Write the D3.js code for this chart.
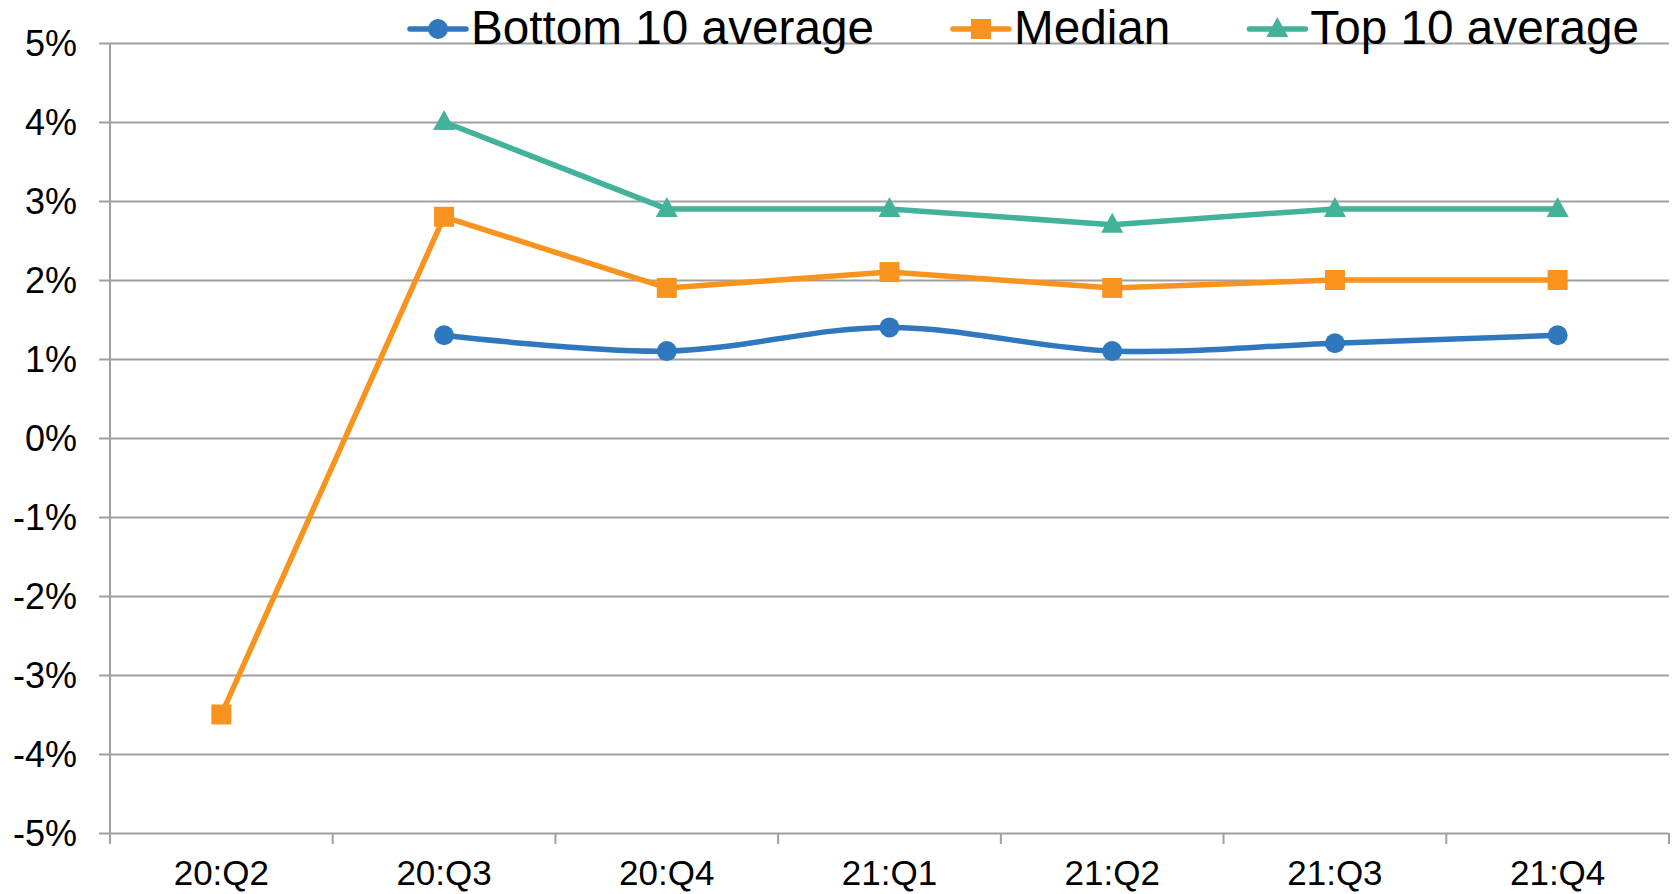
<!DOCTYPE html>
<html>
<head>
<meta charset="utf-8">
<script src="https://cdn.jsdelivr.net/npm/d3@7"></script>
<style>
  html, body { margin: 0; padding: 0; background: #fff; }
  svg { display: block; font-family: "Liberation Sans", Arial, sans-serif; }
</style>
</head>
<body>
<svg class="chart"></svg>
<script>
let categories = ["20:Q2", "20:Q3", "20:Q4", "21:Q1", "21:Q2", "21:Q3", "21:Q4"];
let bottom10   = [null, 1.3, 1.1, 1.4, 1.1, 1.2, 1.3];
let median     = [-3.5, 2.8, 1.9, 2.1, 1.9, 2.0, 2.0];
let top10      = [null, 4.0, 2.9, 2.9, 2.7, 2.9, 2.9];
let yTicks     = [-5, -4, -3, -2, -1, 0, 1, 2, 3, 4, 5];

let width  = 1675;
let height = 894;
let margin = {top: 43, right: 6, bottom: 61, left: 110};

let svg = d3.select(".chart").attr("width", width).attr("height", height);

let x = d3.scaleBand().domain(categories).range([margin.left, width - margin.right]);
let y = d3.scaleLinear().domain([-5, 5]).range([height - margin.bottom, margin.top]);

let gridColor = "#a0a0a0";

// horizontal gridlines + y labels
svg.append("g")
  .attr("class", "y-axis")
  .attr("transform", "translate(" + margin.left + ",0)")
  .call(d3.axisLeft(y).tickValues(yTicks).tickSize(-(width - margin.left - margin.right)).tickPadding(0)
    .tickFormat(d => d + "%"))
  .call(g => g.select(".domain").remove())
  .call(g => g.selectAll(".tick line").attr("stroke", gridColor).attr("stroke-width", 2).attr("x1", -11))
  .call(g => g.selectAll(".tick text").attr("x", -33).attr("dy", "0.36em")
    .attr("font-size", 36).attr("fill", "#000"));

// left axis line
svg.append("line")
  .attr("x1", margin.left).attr("x2", margin.left)
  .attr("y1", y(5)).attr("y2", y(-5) + 11)
  .attr("stroke", gridColor).attr("stroke-width", 2);

// x axis with ticks between categories
let xg = svg.append("g")
  .attr("class", "x-axis")
  .attr("transform", "translate(0," + y(-5) + ")");

xg.selectAll("line.tk")
  .data(categories.concat(["end"]))
  .join("line")
  .attr("class", "tk")
  .attr("x1", (d, i) => i < categories.length ? x(d) : x(categories[categories.length - 1]) + x.bandwidth())
  .attr("x2", (d, i) => i < categories.length ? x(d) : x(categories[categories.length - 1]) + x.bandwidth())
  .attr("y1", 0).attr("y2", 11)
  .attr("stroke", gridColor).attr("stroke-width", 2);

xg.selectAll("text")
  .data(categories)
  .join("text")
  .attr("x", d => x(d) + x.bandwidth() / 2)
  .attr("y", 52)
  .attr("text-anchor", "middle")
  .attr("font-size", 35)
  .attr("fill", "#000")
  .text(d => d);

let series = [
  {name: "Bottom 10 average", values: bottom10, color: "#2f78be", shape: "circle", curve: d3.curveCardinal.tension(0)},
  {name: "Median",            values: median,   color: "#f7931e", shape: "square", curve: d3.curveLinear},
  {name: "Top 10 average",    values: top10,    color: "#43b29b", shape: "triangle", curve: d3.curveLinear}
];

function marker(sel, shape, color) {
  if (shape === "circle") {
    sel.append("circle").attr("r", 10).attr("fill", color);
  } else if (shape === "square") {
    sel.append("rect").attr("x", -10).attr("y", -10).attr("width", 20).attr("height", 20).attr("fill", color);
  } else {
    sel.append("path").attr("d", "M0,-12L11,8L-11,8Z").attr("fill", color);
  }
}

let cx = d => x(d) + x.bandwidth() / 2;

series.forEach(s => {
  let pts = categories.map((c, i) => ({c: c, v: s.values[i]})).filter(p => p.v !== null);

  let line = d3.line()
    .x(p => cx(p.c))
    .y(p => y(p.v))
    .curve(s.curve);

  svg.append("path")
    .attr("fill", "none")
    .attr("stroke", s.color)
    .attr("stroke-width", 5.5)
    .attr("stroke-linejoin", "round")
    .attr("d", line(pts));

  pts.forEach(p => {
    let g = svg.append("g").attr("transform", "translate(" + cx(p.c) + "," + y(p.v) + ")");
    marker(g, s.shape, s.color);
  });
});

// legend
let lx = 410;
series.forEach(s => {
  let g = svg.append("g").attr("transform", "translate(" + lx + ",29)");
  g.append("line")
    .attr("x1", 0).attr("x2", 56)
    .attr("stroke", s.color).attr("stroke-width", 5.5).attr("stroke-linecap", "round");
  let m = g.append("g").attr("transform", "translate(28,0)");
  marker(m, s.shape, s.color);
  let t = g.append("text")
    .attr("x", 61).attr("y", 15)
    .attr("font-size", 47.7)
    .attr("fill", "#000")
    .text(s.name);
  lx += 61 + t.node().getComputedTextLength() + 79;
});
</script>
</body>
</html>
